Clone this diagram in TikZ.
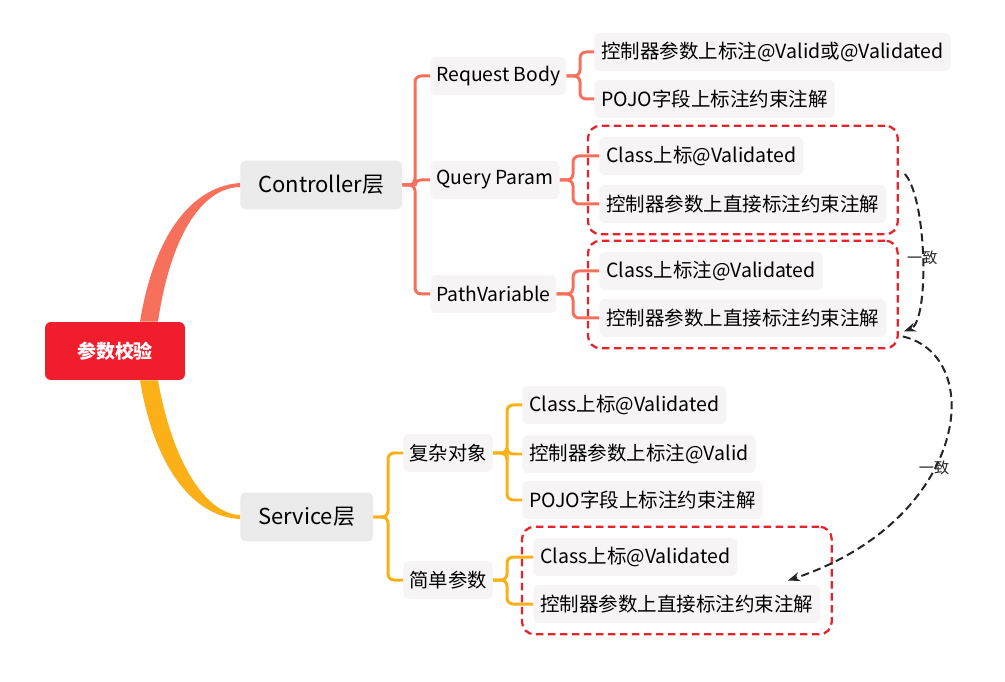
\documentclass[tikz,border=0pt]{standalone}
\usepackage{fontspec}
\setmainfont{Noto Sans CJK SC}
\usetikzlibrary{arrows.meta,fit}
\definecolor{rootred}{RGB}{240,30,45}
\definecolor{ctrlred}{RGB}{247,112,92}
\definecolor{svcorange}{RGB}{251,176,23}
\definecolor{boxgray}{RGB}{235,235,235}
\definecolor{leafgray}{RGB}{246,244,244}
\definecolor{dashred}{RGB}{228,35,45}
\begin{document}
\begin{tikzpicture}[x=0.02cm, y=-0.02cm,
    rootbox/.style={fill=rootred, text=white, rounded corners=0.12cm, minimum width=2.8cm, minimum height=1.16cm, font=\fontsize{10.8pt}{13pt}\selectfont\bfseries},
    lvlone/.style={fill=boxgray, rounded corners=0.12cm, anchor=west, minimum height=0.98cm, inner xsep=0.36cm, font=\fontsize{12.5pt}{15pt}\selectfont},
    lvltwo/.style={fill=leafgray, rounded corners=0.12cm, anchor=west, minimum height=0.76cm, inner xsep=0.12cm, font=\fontsize{11pt}{13pt}\selectfont},
    leaf/.style={fill=leafgray, rounded corners=0.12cm, anchor=west, minimum height=0.76cm, inner xsep=0.14cm, font=\fontsize{11.1pt}{13pt}\selectfont},
    ctrlline/.style={ctrlred, line width=0.06cm, rounded corners=0.12cm},
    svcline/.style={svcorange, line width=0.06cm, rounded corners=0.12cm},
    samebox/.style={draw=dashred, dashed, dash pattern=on 0.15cm off 0.09cm, line width=0.045cm, rounded corners=0.25cm, inner sep=0.22cm},
    agree/.style={black!85, line width=0.04cm, dash pattern=on 0.16cm off 0.09cm, -{Stealth[length=0.24cm, width=0.18cm]}},
    agreelabel/.style={font=\fontsize{8.6pt}{10pt}\selectfont, text=black!85}]
    \fill[white] (0,0) rectangle (1005,682);
    \useasboundingbox (0,0) rectangle (1005,682);
    % level 0 and 1
    \node[rootbox] (Root) at (115,351) {参数校验};
    \node[lvlone] (Ctrl) at (240,185) {Controller层};
    \node[lvlone] (Svc) at (240,517) {Service层};
    % controller side
    \node[lvltwo] (RB) at (430,76) {Request Body};
    \node[lvltwo] (QP) at (430,180) {Query Param};
    \node[lvltwo] (PV) at (430,294) {PathVariable};
    \node[leaf] (RB-1) at (594,52) {控制器参数上标注@Valid或@Validated};
    \node[leaf] (RB-2) at (594,99) {POJO字段上标注约束注解};
    \node[leaf] (QP-1) at (599,156) {Class上标@Validated};
    \node[leaf] (QP-2) at (599,204) {控制器参数上直接标注约束注解};
    \node[leaf] (PV-1) at (599,271) {Class上标注@Validated};
    \node[leaf] (PV-2) at (599,318) {控制器参数上直接标注约束注解};
    % service side
    \node[lvltwo] (CO) at (403,453) {复杂对象};
    \node[lvltwo] (SP) at (403,580) {简单参数};
    \node[leaf] (CO-1) at (522,405) {Class上标@Validated};
    \node[leaf] (CO-2) at (522,454) {控制器参数上标注@Valid};
    \node[leaf] (CO-3) at (522,500) {POJO字段上标注约束注解};
    \node[leaf] (SP-1) at (533,557) {Class上标@Validated};
    \node[leaf] (SP-2) at (533,604) {控制器参数上直接标注约束注解};
    % thick branches from the root
    \fill[ctrlred] ([xshift=0.5cm]Root.north) .. controls +(15,-92) and +(-45,3) .. ([yshift=0.04cm]Ctrl.west)
        -- ([yshift=-0.04cm]Ctrl.west) .. controls +(-40,1) and +(12,-82) .. ([xshift=0.86cm]Root.north) -- cycle;
    \fill[svcorange] ([xshift=0.5cm]Root.south) .. controls +(15,90) and +(-45,-2) .. ([yshift=-0.04cm]Svc.west)
        -- ([yshift=0.04cm]Svc.west) .. controls +(-35,-1) and +(14,80) .. ([xshift=0.86cm]Root.south) -- cycle;
    % brackets
    \foreach \child in {RB,QP,PV}
        \draw[ctrlline] (\child.west) -- ++(-15,0) |- (Ctrl.east);
    \foreach \child in {RB-1,RB-2}
        \draw[ctrlline] (\child.west) -- ++(-14,0) |- (RB.east);
    \foreach \child in {QP-1,QP-2}
        \draw[ctrlline] (\child.west) -- ++(-26,0) |- (QP.east);
    \foreach \child in {PV-1,PV-2}
        \draw[ctrlline] (\child.west) -- ++(-26,0) |- (PV.east);
    \foreach \child in {CO,SP}
        \draw[svcline] (\child.west) -- ++(-15,0) |- (Svc.east);
    \foreach \child in {CO-1,CO-2,CO-3}
        \draw[svcline] (\child.west) -- ++(-15,0) |- (CO.east);
    \foreach \child in {SP-1,SP-2}
        \draw[svcline] (\child.west) -- ++(-26,0) |- (SP.east);
    % dashed groups
    \node[samebox, fit=(QP-1)(QP-2)] (QP-box) {};
    \node[samebox, fit=(PV-1)(PV-2)] (PV-box) {};
    \node[samebox, fit=(SP-1)(SP-2)] (SP-box) {};
    % same behaviour
    \draw[agree] ([xshift=0.12cm,yshift=0.12cm]QP-box.east) .. controls +(22,24) and +(26,-10) .. ([xshift=0.1cm,yshift=0.36cm]PV-box.south east)
        node[agreelabel, pos=0.5] {一致};
    \draw[agree] ([xshift=0.08cm,yshift=0.26cm]PV-box.south east) .. controls +(85,20) and +(180,-60) .. ([xshift=-0.9cm]SP-box.east)
        node[agreelabel, pos=0.58] {一致};
\end{tikzpicture}
\end{document}
